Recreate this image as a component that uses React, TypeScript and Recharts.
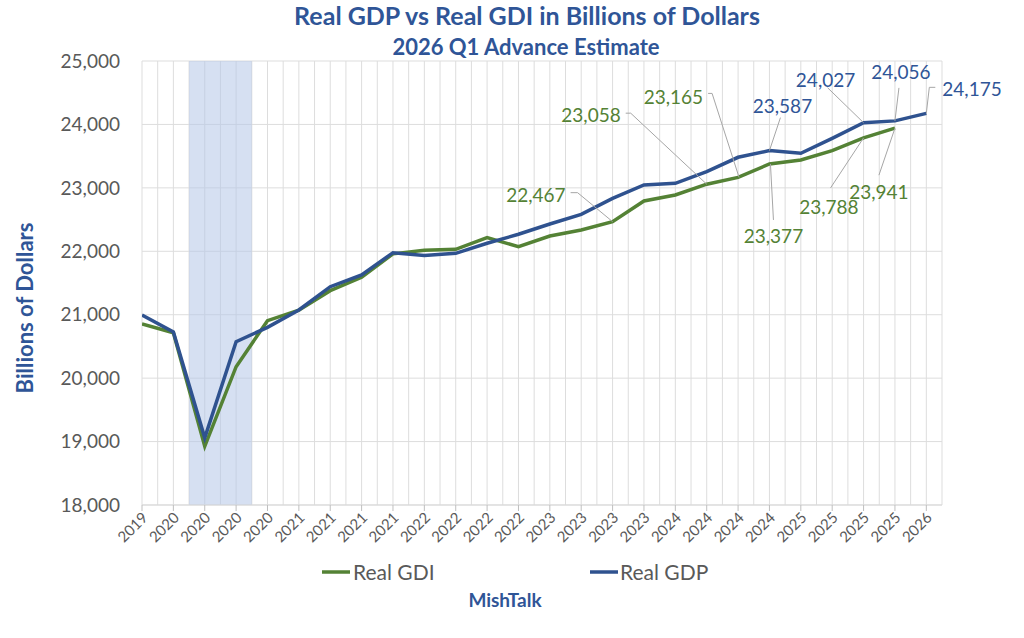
import React from 'react';
import { LineChart, Line, XAxis, YAxis, CartesianGrid, ReferenceArea, LabelList } from 'recharts';

const yearLabels = ['2019', '2020', '2020', '2020', '2020', '2021', '2021', '2021', '2021', '2022', '2022', '2022', '2022', '2023', '2023', '2023', '2023', '2024', '2024', '2024', '2024', '2025', '2025', '2025', '2025', '2026'];
const realGDP = [20996, 20727, 19060, 20575, 20800, 21075, 21442, 21626, 21978, 21935, 21968, 22126, 22268, 22430, 22583, 22835, 23045, 23072, 23255, 23482, 23587, 23545, 23781, 24027, 24056, 24175];
const realGDI: (number | null)[] = [20854, 20715, 18925, 20180, 20906, 21070, 21379, 21590, 21960, 22015, 22031, 22215, 22073, 22241, 22336, 22467, 22793, 22887, 23058, 23165, 23377, 23439, 23587, 23788, 23941, null];
const yTicks = [18000, 19000, 20000, 21000, 22000, 23000, 24000, 25000];
const recessionStart = 1.5;
const recessionEnd = 3.5;

const chartData = yearLabels.map((label, i) => ({ i, label, gdp: realGDP[i], gdi: realGDI[i] }));
const xTicks = yearLabels.flatMap((_, i) => [i, i + 0.5]);

type LabelLayout = { dx: number; dy: number; anchor: 'start' | 'middle' | 'end'; leader: number[][] };

const gdiLabelLayout: Record<number, LabelLayout> = {
  15: { dx: -47, dy: -26, anchor: 'end', leader: [[-42, -29], [-35, -29], [0, 0]] },
  18: { dx: -86, dy: -69, anchor: 'end', leader: [[-81, -71], [-76, -71], [0, 0]] },
  19: { dx: -35, dy: -80, anchor: 'end', leader: [[-30, -84], [-26, -84], [1, 0]] },
  20: { dx: 4, dy: 72, anchor: 'middle', leader: [[1, 0], [4, 56]] },
  23: { dx: -5, dy: 69, anchor: 'end', leader: [[0, 0], [-33, 50]] },
  24: { dx: -16, dy: 64, anchor: 'middle', leader: [[0, 0], [-16, 47]] },
};

const gdpLabelLayout: Record<number, LabelLayout> = {
  20: { dx: 13, dy: -44, anchor: 'middle', leader: [[0, 0], [11, -33]] },
  23: { dx: -38, dy: -43, anchor: 'middle', leader: [[0, 0], [-36, -35]] },
  24: { dx: 6, dy: -49, anchor: 'middle', leader: [[0, 0], [4, -33]] },
  25: { dx: 16, dy: -24, anchor: 'start', leader: [[0, 0], [3, -26], [9, -26]] },
};

const FONT = 'Lato, "Open Sans", sans-serif';
const GDP_COLOR = '#2F528F';
const GDI_COLOR = '#548235';
const GDP_TEXT = '#2F5597';
const GRAY_TEXT = '#595959';

const makeLabel = (layout: Record<number, LabelLayout>, series: (number | null)[], color: string) => (props: any) => {
  const value = props.value;
  let idx = props.index;
  if (idx === undefined || idx === null) idx = series.indexOf(value);
  const cfg = layout[idx];
  if (!cfg || value === null || value === undefined) return null;
  const x = props.x ?? props.viewBox?.x;
  const y = props.y ?? props.viewBox?.y;
  if (x === undefined || y === undefined) return null;
  const pts = cfg.leader.map(([a, b]) => `${x + a},${y + b}`).join(' ');
  return (
    <g key={`lbl-${color}-${idx}`}>
      <polyline points={pts} fill="none" stroke="#A6A6A6" strokeWidth={1} />
      <text x={x + cfg.dx} y={y + cfg.dy + 6.8} textAnchor={cfg.anchor} fontFamily={FONT} fontSize={19} fill={color}>
        {Number(value).toLocaleString('en-US')}
      </text>
    </g>
  );
};

const XTick = (props: any) => {
  const { x, y, payload } = props;
  const v = payload.value;
  if (!Number.isInteger(v)) return null;
  return (
    <g>
      <line x1={x} y1={y} x2={x} y2={y + 6} stroke="#BFBFBF" strokeWidth={1} />
      <g transform={`translate(${x + 3},${y + 10}) rotate(-45)`}>
        <text x={0} y={0} dy="0.35em" textAnchor="end" fontFamily={FONT} fontSize={15} fill={GRAY_TEXT}>
          {yearLabels[v]}
        </text>
      </g>
    </g>
  );
};

export default function App() {
  return (
    <div style={{ position: 'absolute', left: 0, top: 0, width: 1024, height: 638, background: '#fff' }}>
      <LineChart width={1024} height={638} data={chartData} margin={{ top: 61, right: 82, left: 0, bottom: 0 }}>
        <CartesianGrid stroke="#DDDDDD" strokeWidth={1} />
        <ReferenceArea x1={recessionStart} x2={recessionEnd} y1={18000} y2={25000} fill="#B4C7E7" fillOpacity={0.55} stroke="none" />
        <XAxis
          dataKey="i"
          type="number"
          domain={[0, 25.5]}
          ticks={xTicks}
          interval={0}
          height={133}
          tickSize={0}
          tickMargin={0}
          tickLine={false}
          axisLine={{ stroke: '#D9D9D9' }}
          tick={<XTick />}
          allowDataOverflow
        />
        <YAxis
          domain={[18000, 25000]}
          ticks={yTicks}
          interval={0}
          width={142}
          axisLine={false}
          tickLine={false}
          tickSize={0}
          tickMargin={22}
          tickFormatter={(v: number) => v.toLocaleString('en-US')}
          tick={{ fontFamily: FONT, fontSize: 19, fill: GRAY_TEXT }}
          allowDataOverflow
        />
        <Line type="linear" dataKey="gdi" stroke={GDI_COLOR} strokeWidth={3.5} dot={false} isAnimationActive={false} connectNulls={false}>
          <LabelList dataKey="gdi" content={makeLabel(gdiLabelLayout, realGDI, GDI_COLOR)} />
        </Line>
        <Line type="linear" dataKey="gdp" stroke={GDP_COLOR} strokeWidth={3.5} dot={false} isAnimationActive={false}>
          <LabelList dataKey="gdp" content={makeLabel(gdpLabelLayout, realGDP, GDP_TEXT)} />
        </Line>
      </LineChart>
      <svg width={1024} height={638} style={{ position: 'absolute', left: 0, top: 0, pointerEvents: 'none' }}>
        <text x={527} y={25} textAnchor="middle" fontFamily={FONT} fontWeight={700} fontSize={25} fill={GDP_TEXT}>
          Real GDP vs Real GDI in Billions of Dollars
        </text>
        <text x={526} y={55} textAnchor="middle" fontFamily={FONT} fontWeight={700} fontSize={22} fill={GDP_TEXT}>
          2026 Q1 Advance Estimate
        </text>
        <text transform="translate(33,308) rotate(-90)" textAnchor="middle" fontFamily={FONT} fontWeight={700} fontSize={22} fill={GDP_TEXT}>
          Billions of Dollars
        </text>
        <line x1={322} y1={572} x2={350} y2={572} stroke={GDI_COLOR} strokeWidth={3.5} />
        <text x={353} y={580} fontFamily={FONT} fontSize={21} fill={GRAY_TEXT}>Real GDI</text>
        <line x1={590} y1={572} x2={618} y2={572} stroke={GDP_COLOR} strokeWidth={3.5} />
        <text x={620} y={580} fontFamily={FONT} fontSize={21} fill={GRAY_TEXT}>Real GDP</text>
        <text x={505} y={607} textAnchor="middle" fontFamily={FONT} fontWeight={700} fontSize={19} fill={GDP_TEXT}>MishTalk</text>
      </svg>
    </div>
  );
}
